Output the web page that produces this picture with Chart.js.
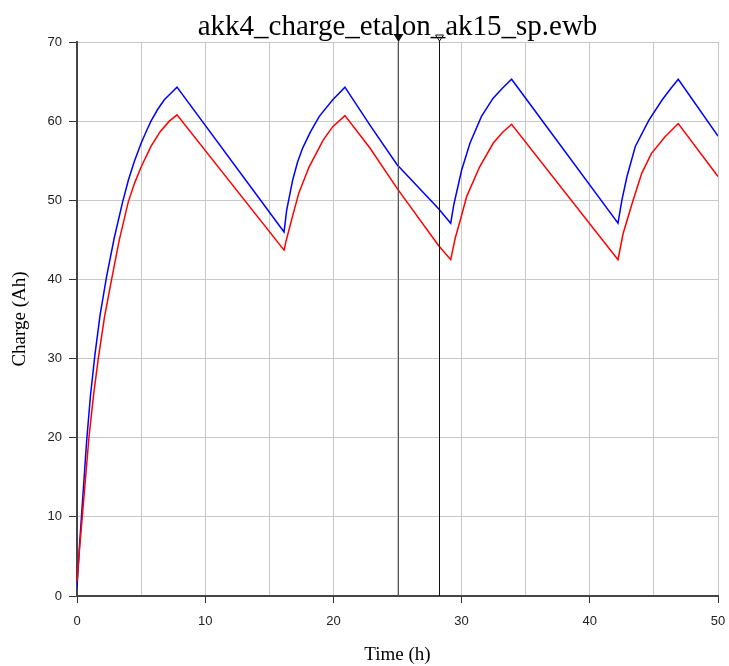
<!DOCTYPE html>
<html>
<head>
<meta charset="utf-8">
<script src="https://cdn.jsdelivr.net/npm/chart.js@4.4.1/dist/chart.umd.min.js"></script>
<style>
html,body{margin:0;padding:0;background:#fff;}
#wrap{width:729px;height:666px;}
</style>
</head>
<body>
<div id="wrap"><canvas id="c" width="729" height="666"></canvas></div>
<script>
const chartTitle = "akk4_charge_etalon_ak15_sp.ewb";
const xLabel = "Time (h)";
const yLabel = "Charge (Ah)";

const blueTime = [0, 0.2, 0.41, 0.75, 1.05, 1.4, 1.8, 2.3, 2.9, 3.56, 4.0, 4.47, 5.0, 5.4, 5.77, 6.3, 6.81, 7.3, 7.8,
  16.15, 16.36, 16.83, 17.2, 17.6, 18.2, 18.9, 19.95, 20.9,
  22.85, 24.97, 28.17, 29.15, 29.4, 30.0, 30.65, 31.55, 32.46, 33.2, 33.9,
  42.2, 42.5, 42.9, 43.55, 44.6, 45.65, 46.3, 46.9, 50.0];
const blueCharge = [1.0, 6.5, 11.5, 19.5, 25.3, 30.5, 35.5, 40.3, 45.2, 49.8, 52.5, 54.9, 57.2, 58.7, 60.0, 61.5, 62.7, 63.5, 64.3,
  46.0, 48.8, 52.6, 54.8, 56.6, 58.6, 60.6, 62.7, 64.3,
  59.5, 54.5, 49.0, 47.1, 49.5, 53.8, 57.2, 60.6, 62.9, 64.2, 65.3,
  47.1, 50.0, 53.0, 56.8, 60.1, 62.7, 64.1, 65.3, 58.1];

const redTime = [0, 0.2, 0.49, 0.93, 1.3, 1.66, 2.15, 2.7, 3.3, 4.0, 4.5, 5.0, 5.77, 6.5, 7.2, 7.8,
  16.15, 16.3, 16.8, 17.3, 18.1, 19.2, 19.95, 20.9,
  22.85, 24.97, 28.17, 29.15, 29.5, 29.9, 30.4, 31.4, 32.46, 33.2, 33.9,
  42.2, 42.6, 43.3, 44.05, 44.8, 45.85, 46.9, 50.0];
const redCharge = [1.8, 6.0, 11.5, 20, 25.5, 30, 35.3, 40, 45, 49.8, 52.2, 54.2, 56.8, 58.7, 60.0, 60.8,
  43.7, 44.8, 47.9, 50.9, 54.2, 57.6, 59.3, 60.7,
  56.6, 51.5, 44.35, 42.5, 45.2, 47.5, 50.5, 54.2, 57.2, 58.6, 59.6,
  42.5, 45.8, 49.6, 53.4, 55.9, 58.0, 59.7, 53.0];

const cursorTimes = [25, 28.2];
const xMin = 0, xMax = 50, xStep = 5, xLabelStep = 10;
const yMin = 0, yMax = 70, yStep = 10;

function pts(t, v) { return t.map((x, i) => ({x: x, y: v[i]})); }

const titlePlugin = {
  id: 'centerTitle',
  afterDraw(chart) {
    const ctx = chart.ctx, a = chart.chartArea;
    ctx.save();
    ctx.fillStyle = '#000';
    ctx.font = '29px "Liberation Serif"';
    ctx.textAlign = 'center';
    ctx.textBaseline = 'alphabetic';
    ctx.fillText(chartTitle, (a.left + a.right) / 2, 35);
    ctx.restore();
  }
};

const cursorPlugin = {
  id: 'cursors',
  afterDatasetsDraw(chart) {
    const ctx = chart.ctx, a = chart.chartArea, xs = chart.scales.x;
    ctx.save();
    cursorTimes.forEach((t, i) => {
      const x = Math.round(xs.getPixelForValue(t)) + 0.5;
      ctx.strokeStyle = i === 0 ? '#555' : '#111';
      ctx.lineWidth = 1;
      ctx.beginPath();
      ctx.moveTo(x, a.top - 4);
      ctx.lineTo(x, a.bottom);
      ctx.stroke();
      ctx.beginPath();
      if (i === 0) {
        ctx.fillStyle = '#111';
        ctx.moveTo(x - 5, a.top - 8);
        ctx.lineTo(x + 5, a.top - 8);
        ctx.lineTo(x, a.top);
        ctx.closePath();
        ctx.fill();
      } else {
        ctx.fillStyle = '#fff';
        ctx.strokeStyle = '#111';
        ctx.moveTo(x - 4, a.top - 7);
        ctx.lineTo(x + 4, a.top - 7);
        ctx.lineTo(x, a.top - 1);
        ctx.closePath();
        ctx.fill();
        ctx.stroke();
      }
    });
    ctx.restore();
  }
};

new Chart(document.getElementById('c'), {
  type: 'scatter',
  data: {
    datasets: [
      {label: 'red', data: pts(redTime, redCharge), showLine: true, borderColor: '#ff0000', borderWidth: 1.5, pointRadius: 0, tension: 0},
      {label: 'blue', data: pts(blueTime, blueCharge), showLine: true, borderColor: '#0000ff', borderWidth: 1.5, pointRadius: 0, tension: 0}
    ]
  },
  options: {
    responsive: false,
    animation: false,
    devicePixelRatio: 1,
    layout: {padding: {top: 42, right: 11, left: 0, bottom: 0}},
    plugins: {legend: {display: false}, tooltip: {enabled: false}, title: {display: false}},
    scales: {
      x: {
        type: 'linear', min: xMin, max: xMax,
        afterFit(s) { s.height = 70; s.paddingLeft = 0; s.paddingRight = 0; },
        ticks: {
          stepSize: xStep, color: '#222', padding: 11, maxRotation: 0,
          font: {family: '"Liberation Sans"', size: 13},
          callback: v => (v % xLabelStep === 0 ? String(v) : '')
        },
        grid: {
          color: '#c8c8c8', lineWidth: 1, tickLength: 7,
          tickColor: c => (c.tick && c.tick.value % xLabelStep === 0 ? '#333' : 'rgba(0,0,0,0)')
        },
        border: {color: '#444', width: 2},
        title: {display: true, text: xLabel, color: '#000', font: {family: '"Liberation Serif"', size: 19}, padding: {top: 0, bottom: 0}}
      },
      y: {
        type: 'linear', min: yMin, max: yMax,
        afterFit(s) { s.width = 77; s.paddingTop = 0; s.paddingBottom = 0; },
        ticks: {stepSize: yStep, color: '#222', padding: 7, font: {family: '"Liberation Sans"', size: 13}},
        grid: {color: '#c8c8c8', lineWidth: 1, tickLength: 8, tickColor: '#333'},
        border: {color: '#444', width: 2},
        title: {display: true, text: yLabel, color: '#000', font: {family: '"Liberation Serif"', size: 19}, padding: {top: 9, bottom: 0}}
      }
    }
  },
  plugins: [titlePlugin, cursorPlugin]
});
</script>
</body>
</html>
